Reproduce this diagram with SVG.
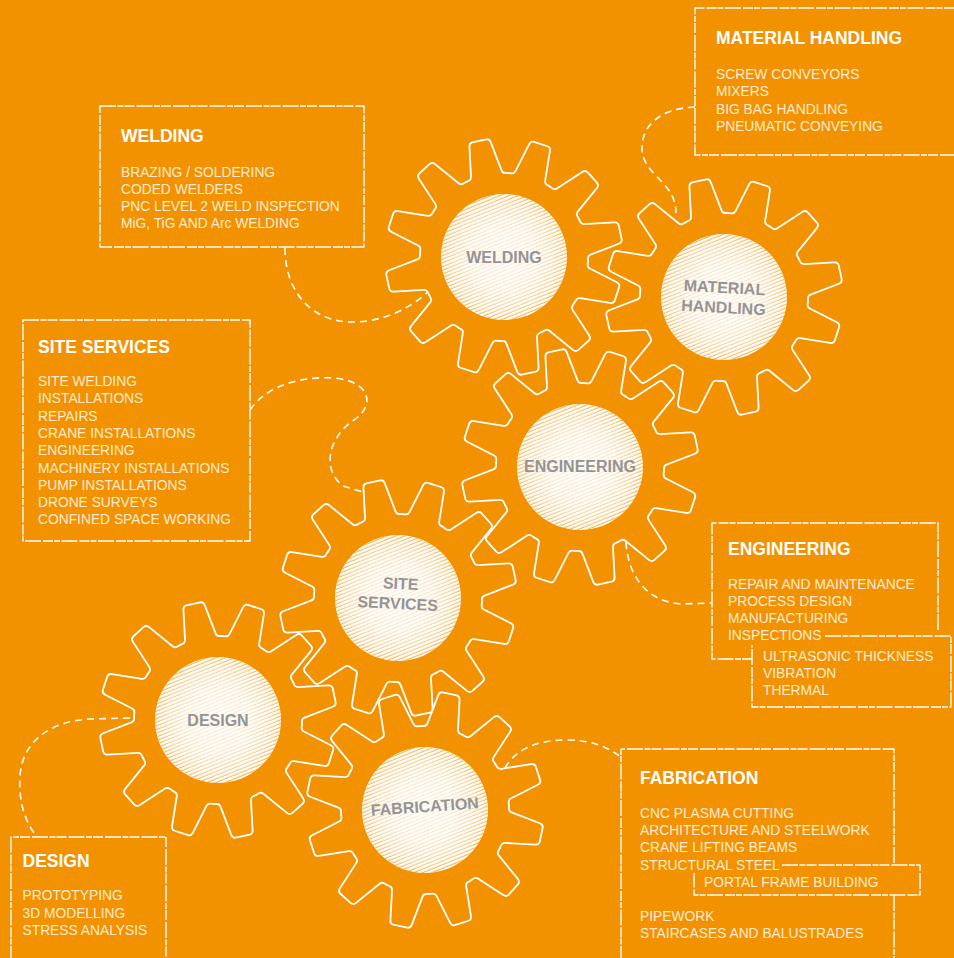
<svg xmlns="http://www.w3.org/2000/svg" xmlns:xlink="http://www.w3.org/1999/xlink" width="954" height="958" viewBox="0 0 954 958">
<style>
.gl{font-family:"Liberation Sans",Arial,sans-serif;font-weight:bold;font-size:16px;fill:#949494;text-anchor:middle}
.tt{font-family:"Liberation Sans",Arial,sans-serif;font-weight:bold;font-size:17.5px;fill:#fff}
.it{font-family:"Liberation Sans",Arial,sans-serif;font-size:13.8px;fill:#fdebd3}
.bx{fill:none;stroke:#fff;stroke-width:1.4;stroke-dasharray:16 1.5 6 1 10 2;stroke-linejoin:round}
.cn{fill:none;stroke:#fff;stroke-width:1.6;stroke-dasharray:7 5}
.gr{fill:none;stroke:#fff;stroke-width:1.8;stroke-linejoin:round;stroke-linecap:round}
</style>
<defs>
<path id="tooth" d="M-21.74,-81.14 L-18.6,-81.9 Q-16.03,-82.46 -15.6,-85.2 L-10.9,-115.1 Q-10.37,-118.55 -7.2,-118.8 L7.2,-118.8 Q10.37,-118.55 10.9,-115.1 L15.6,-85.2 Q16.03,-82.46 18.6,-81.9 L21.74,-81.14"/>
<g id="gear" class="gr">
<use xlink:href="#tooth"/>
<use xlink:href="#tooth" transform="rotate(30)"/>
<use xlink:href="#tooth" transform="rotate(60)"/>
<use xlink:href="#tooth" transform="rotate(90)"/>
<use xlink:href="#tooth" transform="rotate(120)"/>
<use xlink:href="#tooth" transform="rotate(150)"/>
<use xlink:href="#tooth" transform="rotate(180)"/>
<use xlink:href="#tooth" transform="rotate(210)"/>
<use xlink:href="#tooth" transform="rotate(240)"/>
<use xlink:href="#tooth" transform="rotate(270)"/>
<use xlink:href="#tooth" transform="rotate(300)"/>
<use xlink:href="#tooth" transform="rotate(330)"/>
</g>
<pattern id="hatch" width="3.4" height="3.4" patternUnits="userSpaceOnUse" patternTransform="rotate(-22)">
<rect y="2.3" width="3.4" height="1" fill="#f39200" opacity="0.85"/>
</pattern>
<radialGradient id="rg" cx="0.5" cy="0.5" r="0.5">
<stop offset="0" stop-color="#333"/>
<stop offset="0.5" stop-color="#555"/>
<stop offset="0.85" stop-color="#aaa"/>
<stop offset="1" stop-color="#fff"/>
</radialGradient>
<mask id="hm" maskUnits="userSpaceOnUse" x="-65" y="-65" width="130" height="130">
<circle r="64" fill="url(#rg)"/>
</mask>
<g id="disc">
<circle r="63" fill="#fff"/>
<circle r="63" fill="url(#hatch)" mask="url(#hm)"/>
</g>
</defs>
<rect width="954" height="958" fill="#f39200"/>

<g id="connectors">
<path class="cn" d="M285,248 C285,292 312,322 352,322 C384,322 410,308 428,292"/>
<path class="cn" d="M695,107 C660,108 641,126 642,150 C644,176 676,182 676,213"/>
<path class="cn" d="M250,410 C266,386 300,376 334,378 C370,381 376,405 354,420 C330,436 320,468 343,486 L363,492"/>
<path class="cn" d="M626,542 C628,576 646,601 681,604 L712,603"/>
<path class="cn" d="M130,718 L90,719 C50,721 22,742 20,776 C18,806 28,826 37,837"/>
<path class="cn" d="M505,768 C515,750 536,740 566,740 C590,740 606,746 621,757"/>
</g>

<g id="gear-welding" transform="translate(504,257)">
<use xlink:href="#gear" transform="rotate(18)"/>
<use xlink:href="#disc"/>
<text class="gl" y="6">WELDING</text>
</g>
<g id="gear-material-handling" transform="translate(724,297)">
<use xlink:href="#gear" transform="rotate(18)"/>
<use xlink:href="#disc"/>
<g transform="rotate(3)"><text class="gl" y="-4">MATERIAL</text><text class="gl" y="16">HANDLING</text></g>
</g>
<g id="gear-engineering" transform="translate(580,467)">
<use xlink:href="#gear" transform="rotate(18)"/>
<use xlink:href="#disc"/>
<text class="gl" y="5">ENGINEERING</text>
</g>
<g id="gear-site-services" transform="translate(398,598)">
<use xlink:href="#gear" transform="rotate(18)"/>
<use xlink:href="#disc"/>
<g transform="rotate(3)"><text class="gl" x="2" y="-9">SITE</text><text class="gl" y="11">SERVICES</text></g>
</g>
<g id="gear-design" transform="translate(218,720)">
<use xlink:href="#gear" transform="rotate(18)"/>
<use xlink:href="#disc"/>
<text class="gl" y="6">DESIGN</text>
</g>
<g id="gear-fabrication" transform="translate(425,810)">
<use xlink:href="#gear" transform="rotate(12)"/>
<use xlink:href="#disc"/>
<text class="gl" y="2" transform="rotate(-4)">FABRICATION</text>
</g>

<g id="box-material-handling">
<path class="bx" d="M960,8 L695,8 L695,155 L960,155"/>
<text class="tt" x="716" y="44">MATERIAL HANDLING</text>
<text class="it" x="716" y="79">SCREW CONVEYORS</text>
<text class="it" x="716" y="96.3">MIXERS</text>
<text class="it" x="716" y="113.6">BIG BAG HANDLING</text>
<text class="it" x="716" y="130.9">PNEUMATIC CONVEYING</text>
</g>
<g id="box-welding">
<rect class="bx" x="100" y="106" width="264" height="141"/>
<text class="tt" x="121" y="142">WELDING</text>
<text class="it" x="121" y="176.5">BRAZING / SOLDERING</text>
<text class="it" x="121" y="193.8">CODED WELDERS</text>
<text class="it" x="121" y="211.1">PNC LEVEL 2 WELD INSPECTION</text>
<text class="it" x="121" y="228.4">MiG, TiG AND Arc WELDING</text>
</g>
<g id="box-site-services">
<rect class="bx" x="23" y="320" width="227" height="221"/>
<text class="tt" x="38" y="353">SITE SERVICES</text>
<text class="it" x="38" y="386">SITE WELDING</text>
<text class="it" x="38" y="403.3">INSTALLATIONS</text>
<text class="it" x="38" y="420.6">REPAIRS</text>
<text class="it" x="38" y="437.9">CRANE INSTALLATIONS</text>
<text class="it" x="38" y="455.2">ENGINEERING</text>
<text class="it" x="38" y="472.5">MACHINERY INSTALLATIONS</text>
<text class="it" x="38" y="489.8">PUMP INSTALLATIONS</text>
<text class="it" x="38" y="507.1">DRONE SURVEYS</text>
<text class="it" x="38" y="524.4">CONFINED SPACE WORKING</text>
</g>
<g id="box-engineering">
<path class="bx" d="M938,630 L938,523 L712,523 L712,659 L752,659"/>
<path class="bx" d="M825,636 L951,636 L951,707 L752,707 L752,645"/>
<text class="tt" x="728" y="555">ENGINEERING</text>
<text class="it" x="728" y="588.5">REPAIR AND MAINTENANCE</text>
<text class="it" x="728" y="605.8">PROCESS DESIGN</text>
<text class="it" x="728" y="623.1">MANUFACTURING</text>
<text class="it" x="728" y="640.4">INSPECTIONS</text>
<text class="it" x="763" y="660.8">ULTRASONIC THICKNESS</text>
<text class="it" x="763" y="678.1">VIBRATION</text>
<text class="it" x="763" y="695.4">THERMAL</text>
</g>
<g id="box-fabrication">
<path class="bx" d="M621,962 L621,749 L894,749 L894,863"/>
<path class="bx" d="M782,865 L920,865 L920,895 L694,895 L694,873"/>
<path class="bx" d="M894,895 L894,962"/>
<text class="tt" x="640" y="783.5">FABRICATION</text>
<text class="it" x="640" y="817.8">CNC PLASMA CUTTING</text>
<text class="it" x="640" y="835.1">ARCHITECTURE AND STEELWORK</text>
<text class="it" x="640" y="852.4">CRANE LIFTING BEAMS</text>
<text class="it" x="640" y="869.7">STRUCTURAL STEEL</text>
<text class="it" x="704" y="887.2">PORTAL FRAME BUILDING</text>
<text class="it" x="640" y="921">PIPEWORK</text>
<text class="it" x="640" y="938.3">STAIRCASES AND BALUSTRADES</text>
</g>
<g id="box-design">
<path class="bx" d="M11,962 L11,837 L166,837 L166,962"/>
<text class="tt" x="22.5" y="867">DESIGN</text>
<text class="it" x="22.5" y="900.3">PROTOTYPING</text>
<text class="it" x="22.5" y="917.6">3D MODELLING</text>
<text class="it" x="22.5" y="934.9">STRESS ANALYSIS</text>
</g>
</svg>
